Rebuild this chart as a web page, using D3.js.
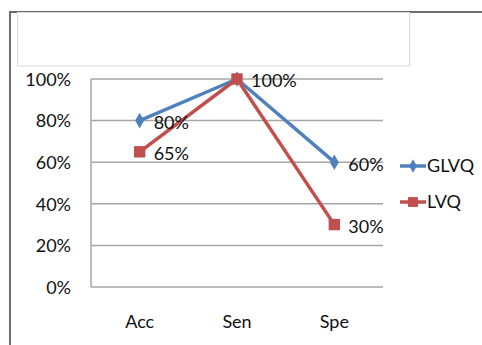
<!DOCTYPE html>
<html>
<head>
<meta charset="utf-8">
<script src="https://cdn.jsdelivr.net/npm/d3@7"></script>
<style>
  html, body { margin: 0; padding: 0; background: #fff; }
  svg { display: block; }
  text { font-family: Lato, "Open Sans", sans-serif; fill: #111; }
</style>
</head>
<body>
<svg id="chart" width="482" height="345"></svg>
<script>
const categories = ["Acc", "Sen", "Spe"];
const seriesNames = ["GLVQ", "LVQ"];
const glvqValues = [0.80, 1.00, 0.60];
const lvqValues = [0.65, 1.00, 0.30];
const yTicks = [0, 0.2, 0.4, 0.6, 0.8, 1.0];
const colors = ["#4F81BD", "#C0504D"];

const series = [
  { name: seriesNames[0], values: glvqValues, color: colors[0], shape: d3.symbolDiamond, size: 70 },
  { name: seriesNames[1], values: lvqValues, color: colors[1], shape: d3.symbolSquare, size: 130 }
];

const svg = d3.select("#chart");
const plot = { left: 91, right: 383, top: 79, bottom: 287 };

// outer frame (top and left edges)
svg.append("path")
  .attr("d", "M10,345 V12 H482")
  .attr("fill", "none")
  .attr("stroke", "#6d6d6d")
  .attr("stroke-width", 2);

// empty title box
svg.append("rect")
  .attr("x", 17.5).attr("y", 12.5)
  .attr("width", 392).attr("height", 53.5)
  .attr("fill", "none")
  .attr("stroke", "#d9d9d9")
  .attr("stroke-width", 1);

const x = d3.scaleBand().domain(categories).range([plot.left, plot.right]);
const y = d3.scaleLinear().domain([0, 1]).range([plot.bottom, plot.top]);

// horizontal gridlines
svg.append("g")
  .selectAll("line")
  .data(yTicks)
  .join("line")
  .attr("x1", plot.left).attr("x2", plot.right)
  .attr("y1", d => y(d)).attr("y2", d => y(d))
  .attr("stroke", "#a6a6a6")
  .attr("stroke-width", 1.5);

// y axis line
svg.append("line")
  .attr("x1", plot.left).attr("x2", plot.left)
  .attr("y1", plot.top).attr("y2", plot.bottom)
  .attr("stroke", "#a6a6a6")
  .attr("stroke-width", 1.5);

// y axis labels
const yAxis = d3.axisLeft(y).tickValues(yTicks).tickFormat(d3.format(".0%")).tickSize(0).tickPadding(20);
const yG = svg.append("g").attr("transform", `translate(${plot.left},0)`).call(yAxis);
yG.select(".domain").remove();
yG.selectAll("text").attr("font-size", 18).attr("font-family", "Lato, sans-serif").attr("fill", "#111").attr("dy", "0.35em");

// x axis labels
const xAxis = d3.axisBottom(x).tickSize(0).tickPadding(28);
const xG = svg.append("g").attr("transform", `translate(0,${plot.bottom})`).call(xAxis);
xG.select(".domain").remove();
xG.selectAll("text").attr("font-size", 18).attr("font-family", "Lato, sans-serif").attr("fill", "#111");

const cx = c => x(c) + x.bandwidth() / 2;
const line = d3.line().x((d, i) => cx(categories[i])).y(d => y(d));

series.forEach(s => {
  svg.append("path")
    .attr("d", line(s.values))
    .attr("fill", "none")
    .attr("stroke", s.color)
    .attr("stroke-width", 3.5)
    .attr("stroke-linejoin", "round");
});

series.forEach(s => {
  svg.append("g")
    .selectAll("path")
    .data(s.values)
    .join("path")
    .attr("d", d3.symbol().type(s.shape).size(s.size))
    .attr("transform", (d, i) => `translate(${cx(categories[i])},${y(d)})`)
    .attr("fill", s.color);
});

// value labels (Sen label drawn once, shared value)
const labelData = [];
series.forEach((s, si) => {
  s.values.forEach((v, i) => {
    if (si === 1 && categories[i] === "Sen" && glvqValues[i] === v) return;
    labelData.push({ cat: categories[i], v });
  });
});
svg.append("g")
  .selectAll("text")
  .data(labelData)
  .join("text")
  .attr("x", d => cx(d.cat) + 14)
  .attr("y", d => y(d.v) + 2)
  .attr("dy", "0.35em")
  .attr("font-size", 18)
  .text(d => d3.format(".0%")(d.v));

// legend
const legend = svg.append("g");
series.forEach((s, i) => {
  const ly = 166 + i * 36;
  legend.append("line")
    .attr("x1", 400).attr("x2", 426)
    .attr("y1", ly).attr("y2", ly)
    .attr("stroke", s.color).attr("stroke-width", 3.5);
  legend.append("path")
    .attr("d", d3.symbol().type(s.shape).size(s.size * 0.75))
    .attr("transform", `translate(413,${ly})`)
    .attr("fill", s.color);
  legend.append("text")
    .attr("x", 427).attr("y", ly)
    .attr("dy", "0.35em")
    .attr("font-size", 18)
    .text(s.name);
});
</script>
</body>
</html>
